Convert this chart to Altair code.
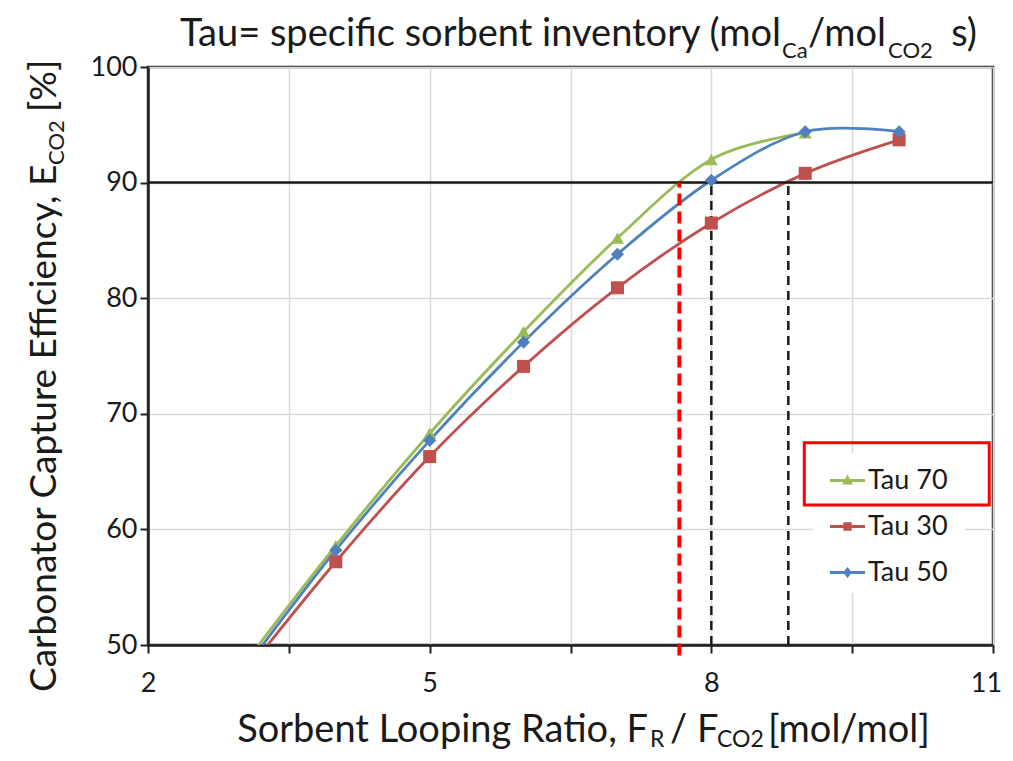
import altair as alt
import pandas as pd

# ---- data ----
x_vals = [3, 4, 5, 6, 7, 8, 9, 10]
tau70 = [48.1, 58.6, 68.3, 77.1, 85.2, 92.0, 94.3, None]
tau30 = [47.2, 57.2, 66.3, 74.1, 80.9, 86.5, 90.8, 93.7]
tau50 = [47.6, 58.2, 67.7, 76.2, 83.8, 90.2, 94.4, 94.4]
series = ["Tau 70", "Tau 30", "Tau 50"]
colors = ["#9BBB59", "#C0504D", "#4F81BD"]
shapes = ["triangle-up", "square", "diamond"]

target_y = [90]
red_dash_x = [7.66]
black_dash_x = [8.0, 8.82]
x_ticks = [2, 3.5, 5, 6.5, 8, 9.5, 11]
y_ticks = [50, 60, 70, 80, 90, 100]

# legend highlight box (data units) and legend backdrop
box_x, box_x2, box_y, box_y2 = [8.99], [10.96], [62.1], [67.5]
bg_x, bg_x2, bg_y, bg_y2 = [9.08], [10.70], [54.5], [66.6]

rows = []
for name, vals in zip(series, [tau70, tau30, tau50]):
    for xv, yv in zip(x_vals, vals):
        if yv is not None:
            rows.append({"x": xv, "y": yv, "series": name})
df = pd.DataFrame(rows)

FONT = "Lato"
TXT = "#1a1a1a"
W, H = 845, 578

xs = alt.Scale(domain=[2, 11], nice=False, zero=False)
ys = alt.Scale(domain=[50, 100], nice=False, zero=False)
cs = alt.Scale(domain=series, range=colors)

base = alt.Chart(df)

xenc = alt.X("x:Q", scale=xs, axis=alt.Axis(
    values=x_ticks, title=None, format=".0f",
    labelExpr="datum.value % 3 == 2 ? datum.label : ''",
    labelOffset={"expr": "datum.value == 11 ? -7 : 0"},
    labelFontSize=27, labelFont=FONT, labelColor=TXT, labelPadding=17,
    tickSize=8, tickColor="#222", tickWidth=2, domainColor="#222", domainWidth=2.5,
    grid=True, gridColor="#d9d9d9", gridWidth=1.5, labelFlush=False))
yenc = alt.Y("y:Q", scale=ys, axis=alt.Axis(
    values=y_ticks, title=None, labelFontSize=27, labelFont=FONT, labelColor=TXT,
    labelPadding=3, tickSize=8, tickColor="#222", tickWidth=2, domainColor="#222",
    domainWidth=2.5, grid=True, gridColor="#d9d9d9", gridWidth=1.5))

backdrop = alt.Chart(pd.DataFrame({"x": bg_x, "x2": bg_x2, "y": bg_y, "y2": bg_y2})).mark_rect(
    fill="white").encode(x=alt.X("x:Q", scale=xs), x2="x2", y=alt.Y("y:Q", scale=ys), y2="y2")

hline = alt.Chart(pd.DataFrame({"y": target_y, "x": [2], "x2": [11]})).mark_rule(
    color="#1a1a1a", strokeWidth=2.5).encode(x=alt.X("x:Q", scale=xs), x2="x2", y=alt.Y("y:Q", scale=ys))

red_dash = alt.Chart(pd.DataFrame({"x": red_dash_x, "y": [49.1], "y2": target_y})).mark_rule(
    color="#ff0000", strokeWidth=4, strokeDash=[12, 6]).encode(
    x=alt.X("x:Q", scale=xs), y=alt.Y("y:Q", scale=ys), y2="y2")

black_dash = alt.Chart(pd.DataFrame({"x": black_dash_x, "y": [50, 50], "y2": target_y * 2})).mark_rule(
    color="#1a1a1a", strokeWidth=2.5, strokeDash=[9, 6]).encode(
    x=alt.X("x:Q", scale=xs), y=alt.Y("y:Q", scale=ys), y2="y2")

lines = base.mark_line(interpolate="cardinal", strokeWidth=2.8, clip=True).encode(
    x=xenc, y=yenc, color=alt.Color("series:N", scale=cs, legend=None), detail="series:N")

points = base.mark_point(filled=True, opacity=1, clip=True, size=170).encode(
    x=alt.X("x:Q", scale=xs), y=alt.Y("y:Q", scale=ys),
    color=alt.Color("series:N", scale=cs, legend=None),
    shape=alt.Shape("series:N", scale=alt.Scale(domain=series, range=shapes), legend=None))

# legend symbols: line segment + marker
leg_paths = [
    "M-1.75,-0.14H1.75V0.14H-1.75ZM0,-0.6L0.55,0.4L-0.55,0.4Z",
    "M-1.75,-0.14H1.75V0.14H-1.75ZM-0.42,-0.42H0.42V0.42H-0.42Z",
    "M-1.75,-0.14H1.75V0.14H-1.75ZM0,-0.55L0.45,0L0,0.55L-0.45,0Z",
]
leg_opts = dict(orient="none", legendX=671, legendY=385, padding=15,
                symbolSize=400, symbolOpacity=1, symbolStrokeWidth=0,
                labelFont=FONT, labelFontSize=27, labelColor=TXT,
                labelOffset=7, rowPadding=18)
leg_df = pd.DataFrame({"entry": series, "x": [4, 4, 4], "y": [60, 60, 60]})
legend_layer = alt.Chart(leg_df).mark_point(filled=True, opacity=0).encode(
    x=alt.X("x:Q", scale=xs), y=alt.Y("y:Q", scale=ys),
    color=alt.Color("entry:N", scale=alt.Scale(domain=series, range=colors), title=None,
                    legend=alt.Legend(**leg_opts)),
    shape=alt.Shape("entry:N", scale=alt.Scale(domain=series, range=leg_paths), title=None,
                    legend=alt.Legend(**leg_opts)))

box = alt.Chart(pd.DataFrame({"x": box_x, "x2": box_x2, "y": box_y, "y2": box_y2})).mark_rect(
    fill=None, stroke="#ff0000", strokeWidth=3, clip=False).encode(
    x=alt.X("x:Q", scale=xs), x2="x2", y=alt.Y("y:Q", scale=ys), y2="y2")


def txt(s, x, y, size, align="left", angle=0):
    return alt.Chart(pd.DataFrame({"t": [s]})).mark_text(
        text=s, font=FONT, fontSize=size, color=TXT, align=align, angle=angle,
        baseline="alphabetic").encode(x=alt.value(x), y=alt.value(y))


T, S = 38, 22
title_parts = [
    txt("Tau= specific sorbent inventory (mol", 633, -21, T, align="right"),
    txt("Ca", 634, -9, S),
    txt("/mol", 738, -21, T, align="right"),
    txt("CO2", 740, -9, S),
    txt("s)", 829, -21, T, align="right"),
]
A, SA = 38, 23
xtitle_parts = [
    txt("Sorbent Looping Ratio, F", 500, 675, A, align="right"),
    txt("R", 502, 680, SA),
    txt("/ F", 522, 675, A),
    txt("CO2", 569, 680, SA),
    txt("[mol/mol]", 620, 675, A),
]
AY = 37
ytitle_parts = [
    txt("Carbonator Capture Efficiency, E", -92, 625, AY, align="left", angle=270),
    txt("CO2", -84, 98, 22, align="left", angle=270),
    txt("[%]", -92, 45, AY, align="left", angle=270),
]

chart = alt.layer(
    backdrop, lines, hline, red_dash, black_dash, points, legend_layer, box,
    *title_parts, *xtitle_parts, *ytitle_parts
).resolve_scale(color="independent", shape="independent").properties(
    width=W, height=H, padding={"left": 140, "top": 59, "right": 12, "bottom": 108},
    autosize=alt.AutoSizeParams(type="none"), background="white"
).configure_view(stroke="#222", strokeWidth=2.5)

chart.save("out.html", embed_options={"renderer": "svg", "actions": False})
